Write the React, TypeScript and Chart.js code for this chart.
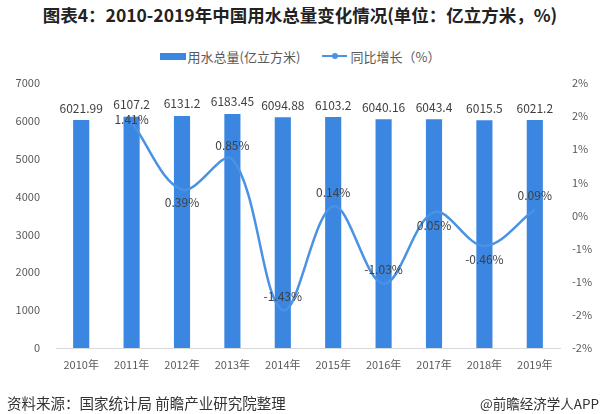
import React, { useEffect, useRef } from "react";
import { Chart, registerables } from "chart.js";

Chart.register(...registerables);

const years = ["2010年", "2011年", "2012年", "2013年", "2014年", "2015年", "2016年", "2017年", "2018年", "2019年"];
const waterUse = [6021.99, 6107.2, 6131.2, 6183.45, 6094.88, 6103.2, 6040.16, 6043.4, 6015.5, 6021.2];
const growth = [null, 1.41, 0.39, 0.85, -1.43, 0.14, -1.03, 0.05, -0.46, 0.09];
const growthLabelPlacement = ["above", "center", "below", "above", "above", "above", "above", "below", "below", "above"];
const rightTickLabels: Record<string, string> = {
  "2": "2%", "1.5": "2%", "1": "1%", "0.5": "1%", "0": "0%",
  "-0.5": "-1%", "-1": "-1%", "-1.5": "-2%", "-2": "-2%",
};

const BAR_COLOR = "#3a86e0";
const LINE_COLOR = "#4a92e4";
const FONT = "'Noto Sans CJK SC', 'Noto Sans', sans-serif";

const labelPlugin = {
  id: "valueLabels",
  afterDatasetsDraw(chart: any) {
    const ctx = chart.ctx;
    ctx.save();
    ctx.textAlign = "center";
    ctx.fillStyle = "#404040";
    const barMeta = chart.getDatasetMeta(0);
    ctx.font = `12px ${FONT}`;
    ctx.textBaseline = "bottom";
    barMeta.data.forEach((el: any, i: number) => {
      ctx.fillText(String(waterUse[i]), el.x, el.y - 6);
    });
    const lineMeta = chart.getDatasetMeta(1);
    ctx.font = `12px ${FONT}`;
    ctx.textBaseline = "middle";
    lineMeta.data.forEach((el: any, i: number) => {
      const v = growth[i];
      if (v === null || v === undefined) return;
      const p = growthLabelPlacement[i];
      const dy = p === "above" ? -14 : p === "below" ? 13 : -3;
      ctx.fillText(v.toFixed(2) + "%", el.x, el.y + dy);
    });
    ctx.restore();
  },
};

export default function App() {
  const ref = useRef<HTMLCanvasElement | null>(null);
  useEffect(() => {
    if (!ref.current) return;
    const chart = new Chart(ref.current, {
      type: "bar",
      data: {
        labels: years,
        datasets: [
          {
            type: "bar",
            label: "用水总量(亿立方米)",
            data: waterUse,
            backgroundColor: BAR_COLOR,
            barPercentage: 0.32,
            categoryPercentage: 1,
            yAxisID: "y",
            order: 2,
          },
          {
            type: "line",
            label: "同比增长（%）",
            data: growth as any,
            borderColor: LINE_COLOR,
            backgroundColor: LINE_COLOR,
            borderWidth: 2.5,
            pointRadius: 0,
            tension: 0.35,
            yAxisID: "y1",
            order: 1,
          },
        ],
      },
      options: {
        responsive: false,
        animation: false,
        layout: { padding: { top: 83, left: 0, right: 0, bottom: 0 } },
        plugins: { legend: { display: false }, tooltip: { enabled: false } },
        scales: {
          x: {
            grid: { display: false, drawTicks: false },
            border: { display: true, color: "#d9d9d9", width: 1 },
            ticks: { color: "#595959", font: { size: 11, family: FONT }, padding: 10, maxRotation: 0 },
            afterFit(s: any) { s.height = 66; },
          },
          y: {
            position: "left",
            min: 0,
            max: 7000,
            grid: { display: false, drawTicks: false },
            border: { display: false },
            ticks: {
              stepSize: 1000,
              color: "#595959",
              font: { size: 11, family: FONT },
              padding: 16,
              callback: (v: any) => String(v),
            },
            afterFit(s: any) { s.width = 56; },
          },
          y1: {
            position: "right",
            min: -2,
            max: 2,
            grid: { display: false, drawTicks: false },
            border: { display: false },
            ticks: {
              stepSize: 0.5,
              color: "#595959",
              font: { size: 11, family: FONT },
              padding: 12,
              callback: (v: any) => rightTickLabels[String(v)] ?? "",
            },
            afterFit(s: any) { s.width = 40; },
          },
        },
      },
      plugins: [labelPlugin],
    });
    return () => chart.destroy();
  }, []);

  return (
    <div style={{ position: "fixed", left: 0, top: 0, width: 600, height: 414, background: "#fff", fontFamily: FONT, overflow: "hidden" }}>
      <div style={{ position: "absolute", left: 0, top: 3, width: 600, textAlign: "center", fontSize: 17.5, fontWeight: "bold", color: "#222", lineHeight: "24px" }}>
        图表4：2010-2019年中国用水总量变化情况(单位：亿立方米，%)
      </div>
      <div style={{ position: "absolute", left: 0, top: 47, width: 600, height: 18, display: "flex", alignItems: "center", justifyContent: "center", fontSize: 13, color: "#595959" }}>
        <div style={{ width: 26, height: 7, background: BAR_COLOR, marginRight: 2 }} />
        <span>用水总量(亿立方米)</span>
        <div style={{ width: 25, height: 10, position: "relative", marginLeft: 22, marginRight: 3 }}>
          <div style={{ position: "absolute", left: 0, top: 4, width: 25, height: 2, background: LINE_COLOR }} />
          <div style={{ position: "absolute", left: 10, top: 2, width: 6, height: 6, borderRadius: 3, background: LINE_COLOR }} />
        </div>
        <span>同比增长（%）</span>
      </div>
      <canvas ref={ref} width={600} height={414} style={{ position: "absolute", left: 0, top: 0 }} />
      <div style={{ position: "absolute", left: 7, top: 393, fontSize: 14.5, color: "#333", lineHeight: "20px" }}>资料来源：国家统计局 前瞻产业研究院整理</div>
      <div style={{ position: "absolute", right: 1, top: 393, fontSize: 13.5, color: "#333", lineHeight: "20px" }}>@前瞻经济学人APP</div>
    </div>
  );
}
